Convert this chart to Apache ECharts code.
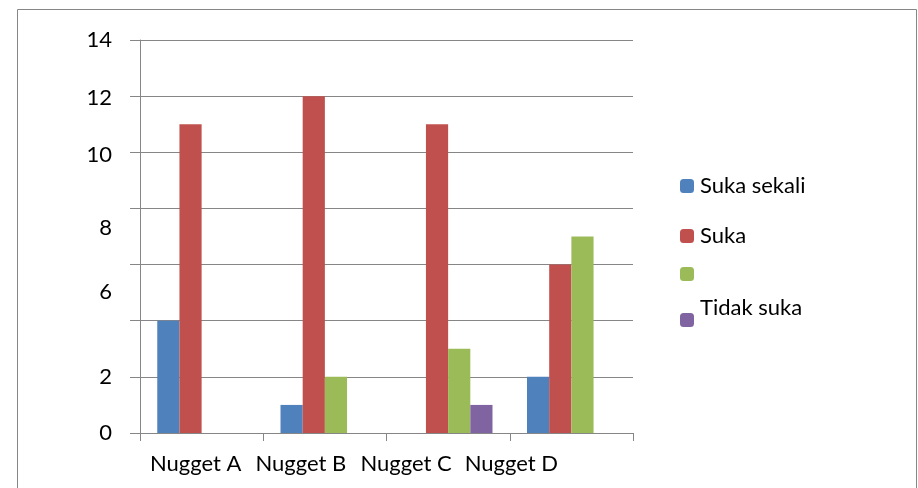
<!DOCTYPE html>
<html>
<head>
<meta charset="utf-8">
<script src="https://cdn.jsdelivr.net/npm/echarts@6/dist/echarts.min.js"></script>
<style>
  html, body { margin: 0; padding: 0; background: #fff; }
  #chart { width: 918px; height: 488px; }
</style>
</head>
<body>
<div id="chart"></div>
<script>
// kategori dan nilai
const categories = ['Nugget A', 'Nugget B', 'Nugget C', 'Nugget D'];
const sukaSekali = [4, 1, 0, 2];
const suka = [11, 12, 11, 6];
const biasa = [0, 2, 3, 7]; // seri tanpa nama di legenda
const tidakSuka = [0, 0, 1, 0];
const yTicks = [0, 2, 4, 6, 8, 10, 12, 14];

const font = 'Lato, "Open Sans", sans-serif';
const gray = '#868686';
const fs = 22;

// label sumbu Y tidak rata (seperti gambar aslinya)
const labelShift = { 0: 0, 2: 0, 6: 54, 8: 38, 10: 6, 12: 4, 14: 0 };
// label kategori bergeser ke kiri
const catShift = [12, 48, 84, 120];

function legendAt(name, top, padBottom) {
  return {
    data: [name],
    left: 680,
    top: top,
    padding: 0,
    orient: 'vertical',
    itemWidth: 14,
    itemHeight: 14,
    selectedMode: false,
    formatter: '{t|{name}}',
    textStyle: {
      fontFamily: font, fontSize: fs, color: '#000',
      rich: { t: { fontFamily: font, fontSize: fs, color: '#000', padding: [0, 0, padBottom || 0, 1] } }
    }
  };
}

const chart = echarts.init(document.getElementById('chart'));
chart.setOption({
  animation: false,
  color: ['#4F81BD', '#C0504D', '#9BBB59', '#8064A2'],
  graphic: [{
    type: 'rect',
    shape: { x: 17.5, y: 9.5, width: 899, height: 490 },
    style: { fill: null, stroke: gray, lineWidth: 1 }
  }],
  legend: [
    legendAt('Suka sekali', 175),
    legendAt('Suka', 225),
    legendAt(' ', 263),
    legendAt('Tidak suka', 297, 24)
  ],
  grid: { left: 140, right: 285, top: 40, bottom: 55, containLabel: false },
  xAxis: {
    type: 'category',
    data: categories,
    axisLine: { lineStyle: { color: gray, width: 1 } },
    axisTick: { show: true, length: 8, lineStyle: { color: gray } },
    axisLabel: {
      interval: 0,
      hideOverlap: false,
      fontFamily: font, fontSize: fs, color: '#000', margin: 20,
      formatter: function (v, i) { return '{c' + i + '|' + v + '}'; },
      rich: (function () {
        const r = {};
        catShift.forEach(function (p, i) {
          r['c' + i] = { fontFamily: font, fontSize: fs, color: '#000', padding: [0, p, 0, 0] };
        });
        return r;
      })()
    }
  },
  yAxis: {
    type: 'value',
    min: 0,
    max: 14,
    interval: 2,
    axisLine: { show: true, lineStyle: { color: gray, width: 1 } },
    axisTick: { show: true, length: 10, lineStyle: { color: gray } },
    splitLine: { show: true, lineStyle: { color: gray, width: 1 } },
    axisLabel: {
      fontFamily: font,
      fontSize: fs,
      color: '#000',
      margin: 28,
      formatter: function (v) {
        if (v === 4 || yTicks.indexOf(v) < 0) return '';
        return '{s' + v + '|' + v + '}';
      },
      rich: (function () {
        const r = {};
        yTicks.forEach(function (v) {
          r['s' + v] = {
            fontFamily: font, fontSize: fs, color: '#000',
            padding: [labelShift[v] || 0, 0, 0, 0]
          };
        });
        return r;
      })()
    }
  },
  series: [
    { name: 'Suka sekali', type: 'bar', data: sukaSekali, barGap: 0, barCategoryGap: '28%' },
    { name: 'Suka', type: 'bar', data: suka, barGap: 0, barCategoryGap: '28%' },
    { name: ' ', type: 'bar', data: biasa, barGap: 0, barCategoryGap: '28%' },
    { name: 'Tidak suka', type: 'bar', data: tidakSuka, barGap: 0, barCategoryGap: '28%' }
  ]
});
</script>
</body>
</html>
